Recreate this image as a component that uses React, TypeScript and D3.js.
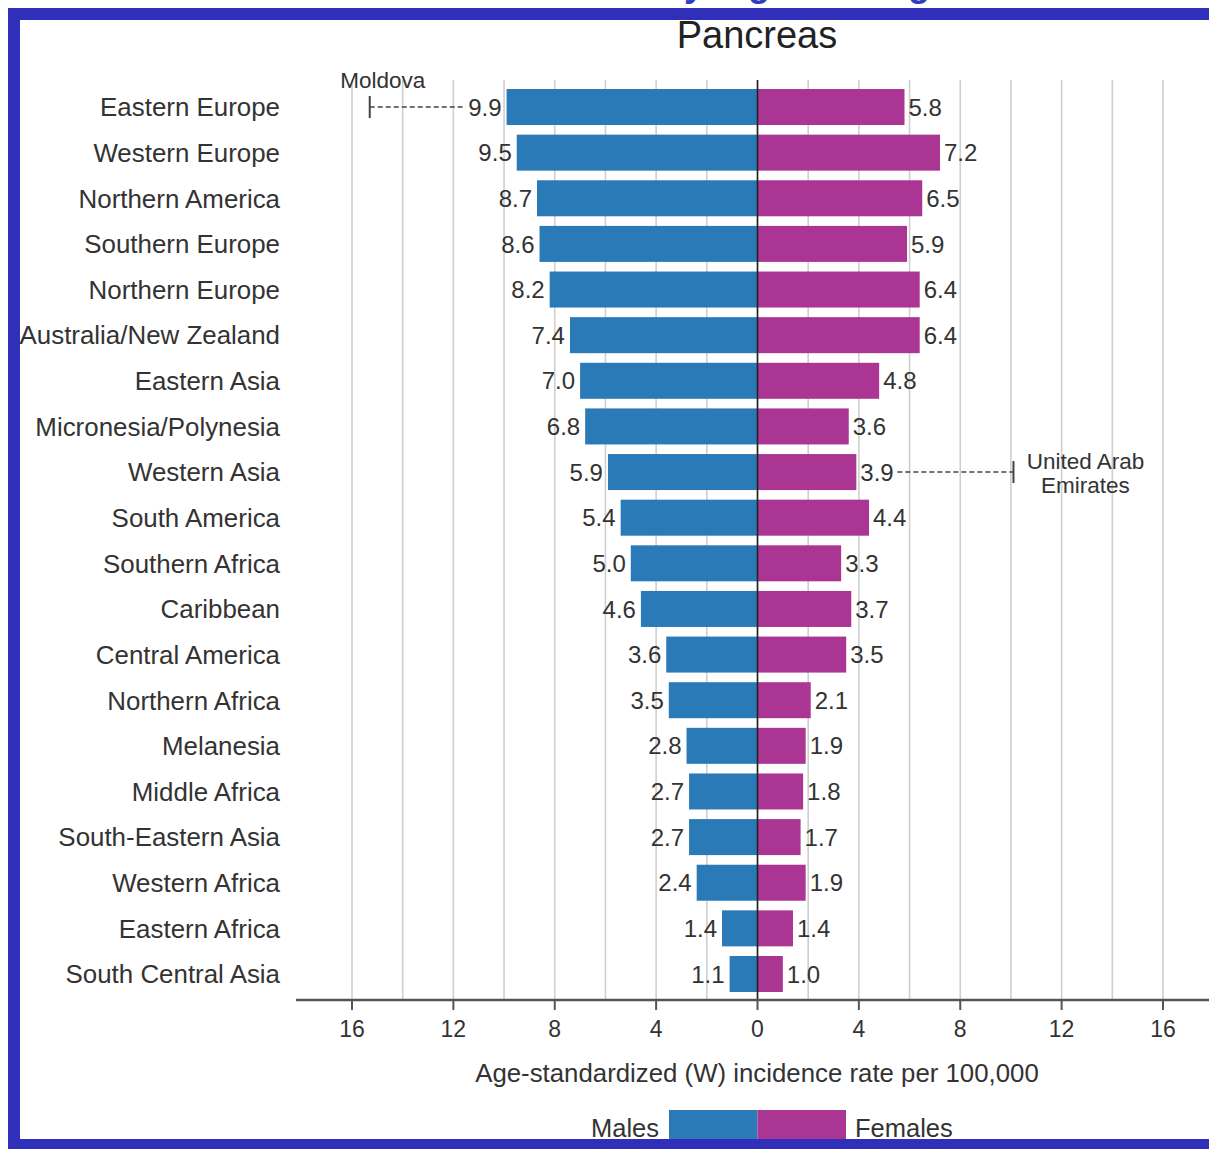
import React from "react";
import * as d3 from "d3";

const regions = [
  "Eastern Europe", "Western Europe", "Northern America", "Southern Europe", "Northern Europe",
  "Australia/New Zealand", "Eastern Asia", "Micronesia/Polynesia", "Western Asia", "South America",
  "Southern Africa", "Caribbean", "Central America", "Northern Africa", "Melanesia",
  "Middle Africa", "South-Eastern Asia", "Western Africa", "Eastern Africa", "South Central Asia",
];
const males = [9.9, 9.5, 8.7, 8.6, 8.2, 7.4, 7.0, 6.8, 5.9, 5.4, 5.0, 4.6, 3.6, 3.5, 2.8, 2.7, 2.7, 2.4, 1.4, 1.1];
const females = [5.8, 7.2, 6.5, 5.9, 6.4, 6.4, 4.8, 3.6, 3.9, 4.4, 3.3, 3.7, 3.5, 2.1, 1.9, 1.8, 1.7, 1.9, 1.4, 1.0];
const maleLabels = ["9.9", "9.5", "8.7", "8.6", "8.2", "7.4", "7.0", "6.8", "5.9", "5.4", "5.0", "4.6", "3.6", "3.5", "2.8", "2.7", "2.7", "2.4", "1.4", "1.1"];
const femaleLabels = ["5.8", "7.2", "6.5", "5.9", "6.4", "6.4", "4.8", "3.6", "3.9", "4.4", "3.3", "3.7", "3.5", "2.1", "1.9", "1.8", "1.7", "1.9", "1.4", "1.0"];
const xTicks = [-16, -12, -8, -4, 0, 4, 8, 12, 16];
const gridValues = d3.range(-16, 17, 2);
const maleOutlier = { region: "Eastern Europe", name: ["Moldova"], value: 15.3 };
const femaleOutlier = { region: "Western Asia", name: ["United Arab", "Emirates"], value: 10.1 };

const BLUE = "#2a7ab8";
const MAGENTA = "#ab3592";
const TEXT = "#333333";
const FONT = "'Liberation Sans', Arial, Helvetica, sans-serif";

export default function App() {
  const W = 1209, H = 1149;
  const x = d3.scaleLinear().domain([-16, 16]).range([352, 1163]);
  const y = d3.scaleBand<string>().domain(regions).range([84.2, 996.8]).paddingInner(0.211).paddingOuter(0.1055);
  const bw = y.bandwidth();
  const x0 = x(0);
  const axisY = 1000;

  const mi = regions.indexOf(maleOutlier.region);
  const fi = regions.indexOf(femaleOutlier.region);
  const mcy = (y(maleOutlier.region) as number) + bw / 2;
  const fcy = (y(femaleOutlier.region) as number) + bw / 2;

  return (
    <svg width={W} height={H} style={{ position: "absolute", left: 0, top: 0, background: "#fff" }} fontFamily={FONT}>
      <rect x={0} y={0} width={W} height={H} fill="#fff" />
      {/* cut-off heading */}
      <text x={757} y={-4} textAnchor="middle" fontSize={36} fontWeight="bold" fill="#2f3cc4">Incidence by region and gender</text>

      {/* gridlines */}
      {gridValues.map((v) => (
        <line key={v} x1={x(v)} x2={x(v)} y1={80} y2={axisY} stroke="#cfcfcf" strokeWidth={1.6} />
      ))}

      {/* title */}
      <text x={757} y={48} textAnchor="middle" fontSize={38} fill="#222">Pancreas</text>

      {/* bars */}
      {regions.map((r, i) => {
        const top = y(r) as number;
        const cy = top + bw / 2;
        return (
          <g key={r}>
            <rect x={x(-males[i])} y={top} width={x0 - x(-males[i])} height={bw} fill={BLUE} />
            <rect x={x0} y={top} width={x(females[i]) - x0} height={bw} fill={MAGENTA} />
            <text x={280} y={cy} dy="0.36em" textAnchor="end" fontSize={25.9} fill={TEXT}>{r}</text>
            <text x={x(-males[i]) - 5} y={cy} dy="0.36em" textAnchor="end" fontSize={24} fill={TEXT}>{maleLabels[i]}</text>
            <text x={x(females[i]) + 4} y={cy} dy="0.36em" textAnchor="start" fontSize={24} fill={TEXT}>{femaleLabels[i]}</text>
          </g>
        );
      })}

      {/* zero line */}
      <line x1={x0} x2={x0} y1={80} y2={axisY} stroke="#222" strokeWidth={1.6} />

      {/* male outlier (Moldova) */}
      <line x1={x(-maleOutlier.value)} x2={x(-males[mi]) - 44} y1={mcy} y2={mcy} stroke="#444" strokeWidth={1.5} strokeDasharray="5,3" />
      <line x1={x(-maleOutlier.value)} x2={x(-maleOutlier.value)} y1={mcy - 11} y2={mcy + 11} stroke="#444" strokeWidth={2} />
      <text x={x(-maleOutlier.value) + 13} y={88} textAnchor="middle" fontSize={22.5} fill={TEXT}>{maleOutlier.name[0]}</text>

      {/* female outlier (UAE) */}
      <line x1={x(females[fi]) + 41} x2={x(femaleOutlier.value)} y1={fcy} y2={fcy} stroke="#444" strokeWidth={1.5} strokeDasharray="5,3" />
      <line x1={x(femaleOutlier.value)} x2={x(femaleOutlier.value)} y1={fcy - 11} y2={fcy + 11} stroke="#444" strokeWidth={2} />
      {femaleOutlier.name.map((t, k) => (
        <text key={t} x={x(femaleOutlier.value) + 72} y={fcy - 3 + k * 24} textAnchor="middle" fontSize={22.5} fill={TEXT}>{t}</text>
      ))}

      {/* x axis */}
      <line x1={296} x2={W} y1={axisY} y2={axisY} stroke="#555" strokeWidth={2.5} />
      {xTicks.map((v) => (
        <g key={v}>
          <line x1={x(v)} x2={x(v)} y1={axisY} y2={axisY + 10} stroke="#555" strokeWidth={2} />
          <text x={x(v)} y={axisY + 37} textAnchor="middle" fontSize={23} fill={TEXT}>{Math.abs(v)}</text>
        </g>
      ))}
      <text x={757} y={1082} textAnchor="middle" fontSize={25.8} fill={TEXT}>Age-standardized (W) incidence rate per 100,000</text>

      {/* legend */}
      <rect x={669} y={1110} width={x0 - 669} height={40} fill={BLUE} />
      <rect x={x0} y={1110} width={846 - x0} height={40} fill={MAGENTA} />
      <text x={659} y={1137} textAnchor="end" fontSize={25.5} fill={TEXT}>Males</text>
      <text x={855} y={1137} textAnchor="start" fontSize={25.5} fill={TEXT}>Females</text>

      {/* frame */}
      <rect x={14} y={14} width={1300} height={1131} fill="none" stroke="#2f2fb9" strokeWidth={12} />
    </svg>
  );
}
